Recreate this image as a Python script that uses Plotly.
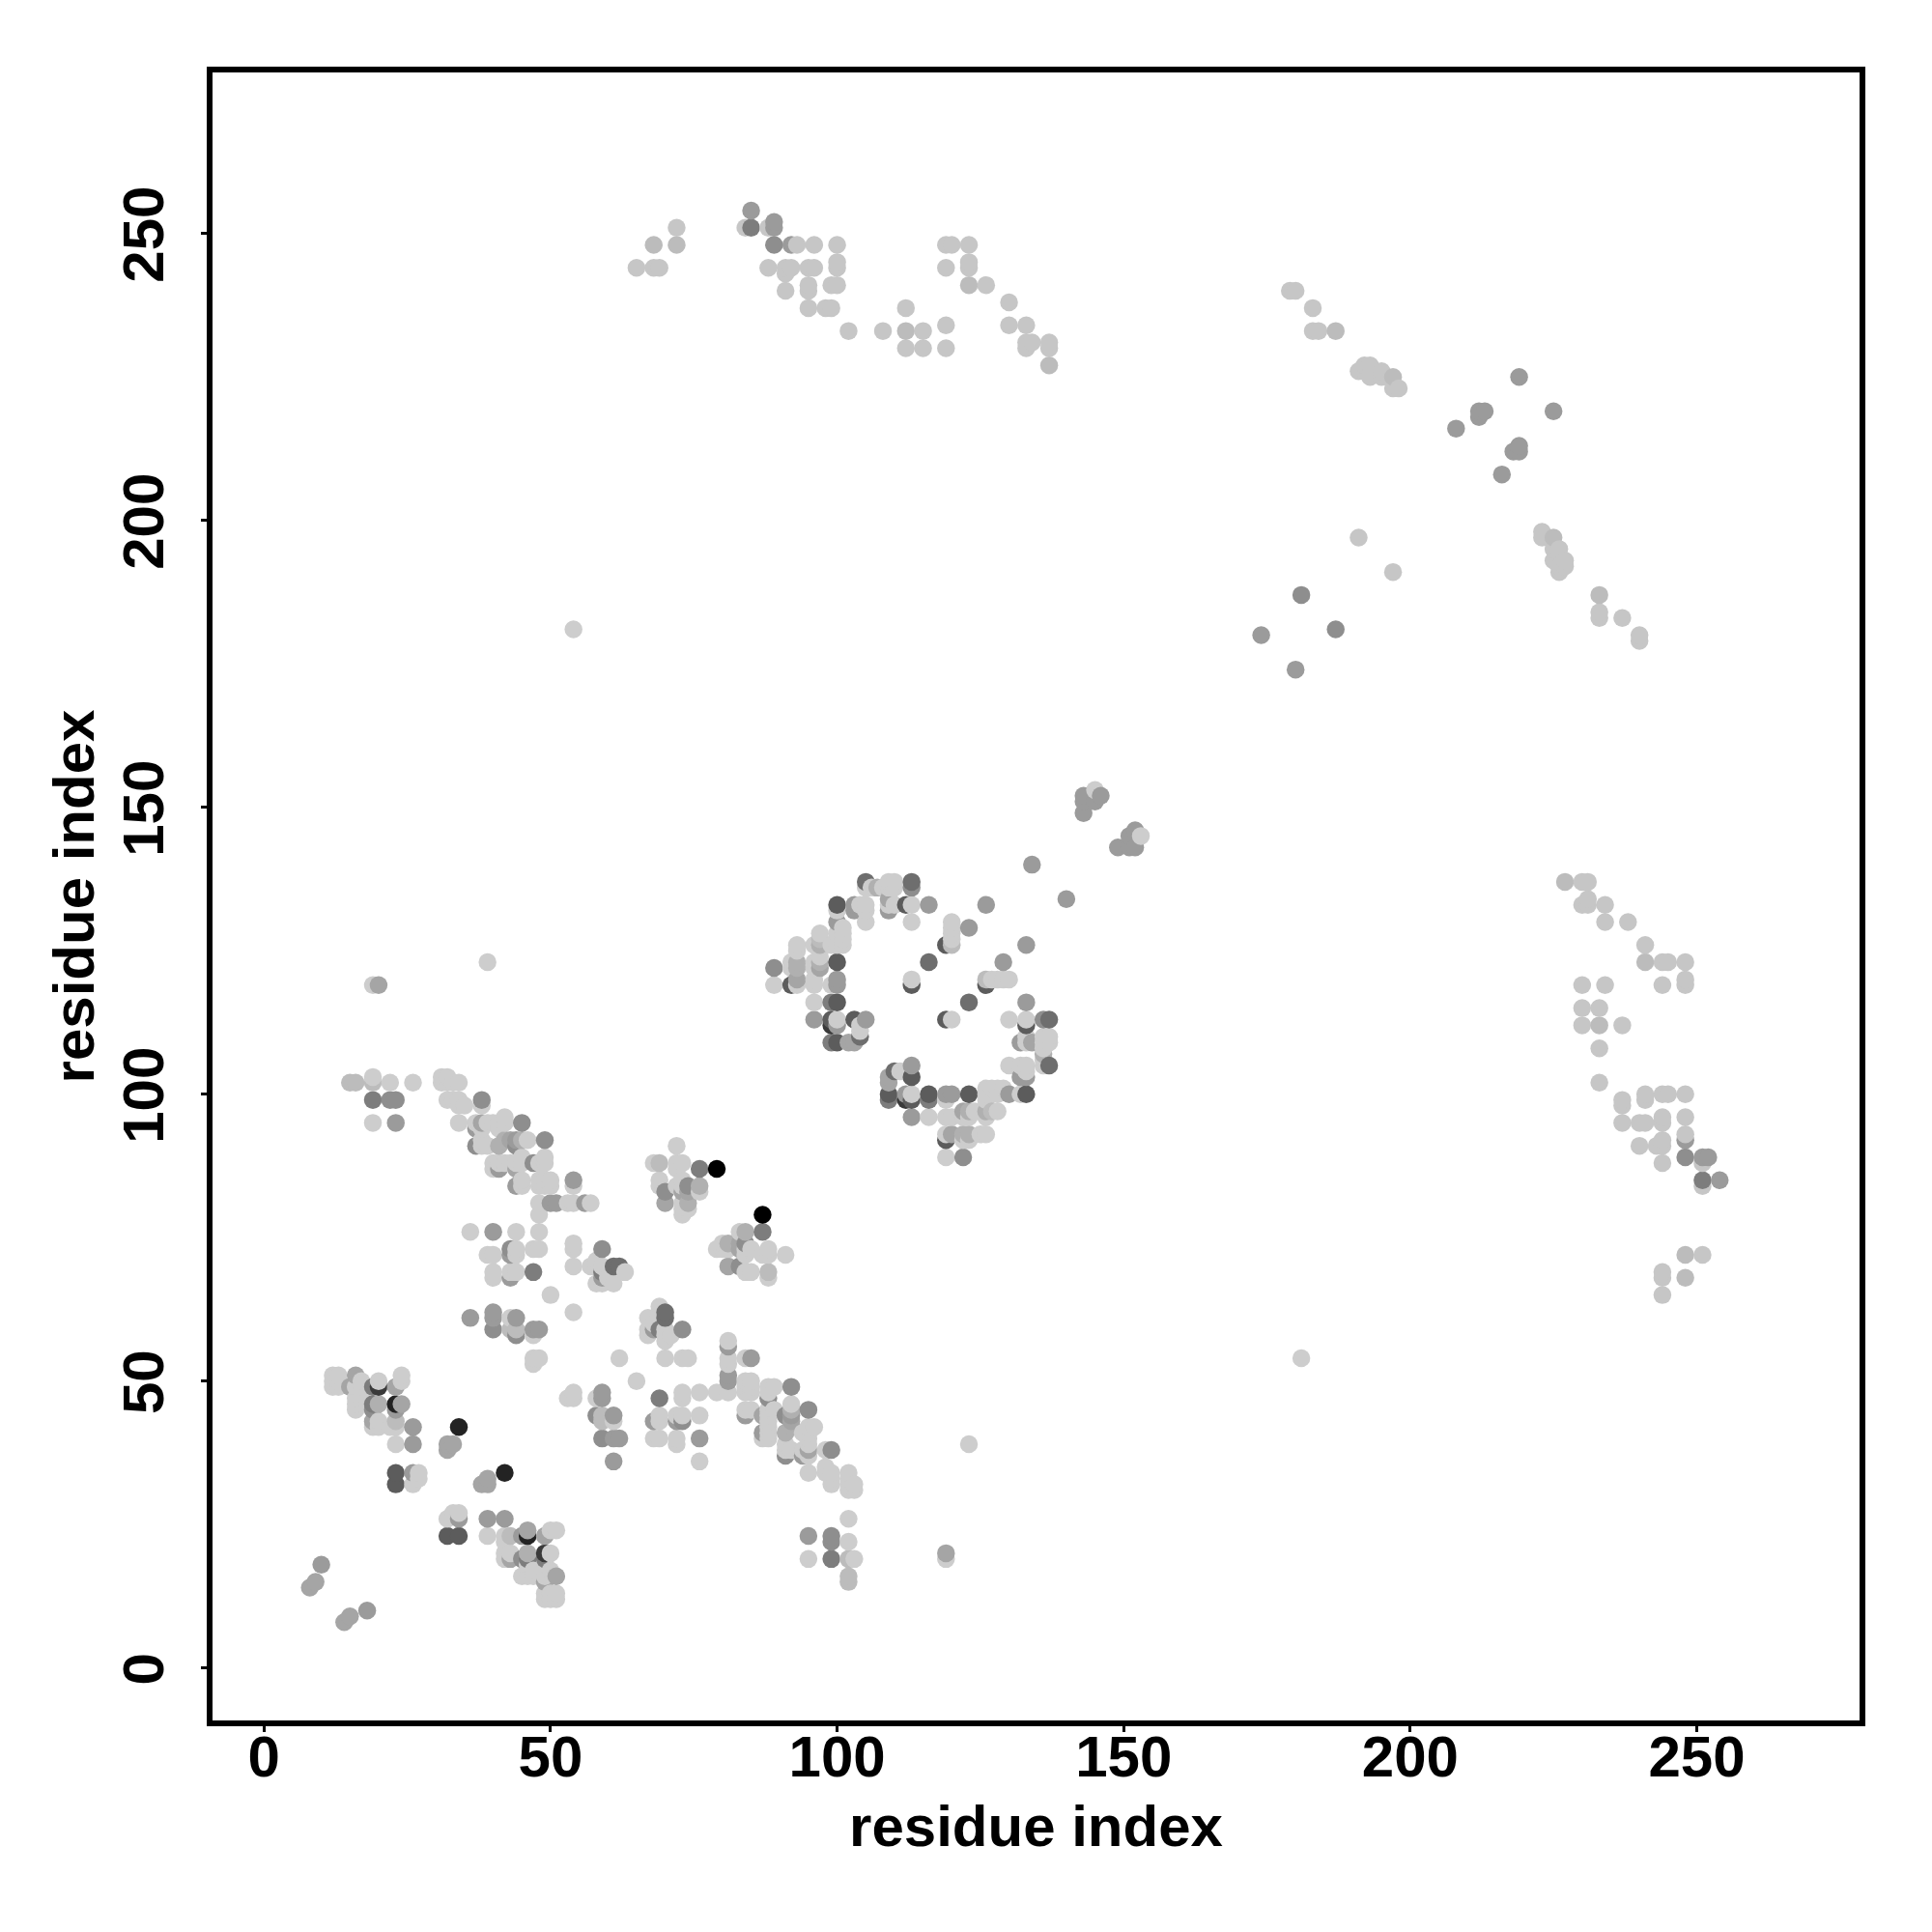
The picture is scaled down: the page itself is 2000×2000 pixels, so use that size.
import plotly.graph_objects as go

ticks = [0, 50, 100, 150, 200, 250]
tick_labels = ["0", "50", "100", "150", "200", "250"]
axis_title = "residue index"

pairs_205 = [(12,49),(12,50),(12,51),(13,49),(13,50),(13,51),(16,45),(16,46),(16,47),(16,49),(17,47),(17,50),(18,46),(17,49),(19,42),(20,42),(20,43),(20,50),(22,42),(23,39),(23,42),(24,50),(24,51),(26,32),(27,33),(27,34),
(15,102),(16,102),(19,103),(22,102),(26,102),(19,95),(31,103),(32,103),(31,102),(32,102),(33,102),(34,102),(32,99),(33,99),(34,99),(35,98),(34,98),(38,98),(34,95),(37,95),(38,95),(39,95),(38,91),(39,91),(40,95),(41,95),(42,96),(42,95),(45,92),(46,92),(41,91),(40,88),(40,87),(41,88),(43,88),(44,88),(45,88),(48,88),(49,89),(49,88),(45,84),(45,85),(48,85),(49,85),(50,85),(48,84),(49,84),(54,84),(48,81),(53,81),(54,81),(57,81),(48,79),(48,76),(36,76),(44,76),(47,73),(48,73),(39,72),(40,72),(44,73),(44,72),(40,69),(40,68),(43,69),(44,69),(50,65),(54,62),(54,74),(54,73),(54,70),(57,70),(58,71),(59,70),(63,69),(58,67),(59,67),(61,67),(60,68),(43,61),(47,58),(48,54),(47,53),(47,54),
(72,91),(68,88),(72,88),(73,88),(69,85),(69,84),(72,84),(73,84),(73,80),(73,79),(73,81),(76,83),(74,80),(73,85),(72,87),
(69,63),(67,61),(67,58),(70,58),(70,54),(73,54),(74,54),(81,57),(81,54),(81,53),(79,48),(81,48),(76,48),(73,48),(73,47),(65,50),(84,54),(85,50),(84,50),(84,49),(85,49),(88,49),(89,49),(85,45),(89,45),(92,46),(96,42),(95,42),(88,42),(88,41),(88,40),(91,38),(95,39),(94,41),(92,38),(94,38),(98,38),(95,34),(98,35),(98,34),(99,34),(99,32),(102,34),(102,33),(102,31),(103,32),(103,31),(102,26),(102,22),(95,19),(102,19),(103,19),(119,19),(123,39),(69,44),(69,43),(72,44),(73,44),(76,44),(68,40),(69,40),(72,40),(72,39),(76,36),(54,181),
(105,136),(107,136),(108,136),(109,136),(110,136),(109,137),(110,137),(100,132),(104,133),(105,133),(105,132),(105,130),(109,133),(110,133),(113,133),(113,130),(101,129),(100,128),(101,128),(100,126),(101,126),(97,128),(96,126),(93,126),(93,125),(92,123),(92,122),(96,123),(96,122),(89,119),(93,119),(96,120),(96,119),(99,119),(96,116),(100,113),(104,112),
(120,130),(120,129),(120,128),(113,120),(127,120),(128,120),(129,120),(130,120),(120,113),(130,113),(133,113),(133,110),(133,109),(136,110),(137,110),(136,109),(137,109),(136,108),(136,106),(130,105),(132,105),(133,105),(133,104),(132,100),(129,101),(128,101),(127,101),(126,101),(128,100),(126,100),(126,99),(113,100),(119,99),(111,104),(116,96),(119,96),(120,96),(123,97),(123,96),(124,97),(126,97),(127,97),(128,97),(119,93),(122,92),(123,92),(125,93),(126,93),(119,89),(145,153)]

pairs_198 = [(65,244),(68,244),(69,244),(72,251),(84,251),(88,251),(93,248),(96,248),(100,248),(100,245),(100,244),(88,244),(91,244),(92,244),(91,243),(91,240),(95,244),(96,244),(95,241),(95,240),(99,241),(100,241),(95,237),(98,237),(99,237),(102,233),(108,233),(112,237),(115,233),(112,230),(115,230),(119,234),(119,230),(119,248),(120,248),(123,248),(119,244),(123,245),(123,244),(126,241),(130,238),(130,234),(133,234),(133,231),(133,230),(134,231),(137,231),(137,230),
(179,240),(180,240),(183,237),(183,233),(184,233),(191,226),(192,227),(193,227),(192,226),(193,225),(195,226),(195,225),(197,225),(197,223),(198,223),(191,197),(223,198),(223,197),(226,195),(225,195),(227,193),(225,193),(227,192),(226,191),(233,187),(233,184),(233,183),(237,183),(240,180),(240,179),
(230,137),(231,137),(230,133),(231,134),(231,133),(234,133),(234,130),(238,130),(241,126),(244,123),(245,123),(248,123),(248,120),(248,119),(244,119),(230,119),(234,119),(230,115),(233,115),(230,112),(237,112),(233,108),(233,102),(237,99),(237,98),(241,100),(241,99),(244,100),(245,100),(248,100),(237,95),(240,95),(241,95),(244,96),(244,95),(248,96),(248,93),(240,91),(243,91),(244,92),(244,91),(244,88),(251,88),(251,84),(248,72),(251,72),(244,69),(244,68),(248,68),(244,65)]

pairs_188 = [(19,102),(23,43),(44,92),(43,72),(43,59),(44,59),(68,248),(72,248),(187,233),(225,197),(123,241),(112,233),(102,16),(102,15),(120,126),(126,120),(69,88),(227,137),(241,123),(233,112),(137,227),(122,93),(97,127)]

pairs_176 = [(20,46),(42,92),(76,84),(74,81),(87,44),(87,41),(91,41),(92,45),(92,42),(97,126),(97,123),(93,123),(93,122),(136,107)]

pairs_165 = [(8,14),(9,15),(15,49),(16,51),(23,49),(24,46),(19,43),(32,38),(32,39),(33,39),(37,94),(43,92),(44,87),(43,68),(70,81),(74,83),(83,73),(95,38),(102,109),(103,109),(93,120),(97,122),(100,130),(122,97),(120,93),(109,103),(109,102),(132,103),(134,109),(119,20)]

pairs_155 = [(10,18),(26,42),(26,39),(26,34),(23,45),(22,99),(23,99),(23,95),(41,87),(44,84),(54,85),(50,81),(51,81),(56,81),(40,76),(43,73),(36,61),(40,62),(40,61),(44,61),(47,59),(48,59),(68,43),(68,59),(72,43),(76,40),(81,51),(81,50),(85,54),(92,49),(84,44),(88,47),(92,44),(91,37),(94,37),(95,23),(103,133),(103,132),(109,132),(116,133),(126,133),(123,129),(129,123),(133,126),(100,120),(100,119),(96,113),(105,113),(133,116),(136,113),(132,109),(130,100),(120,100),(119,100),(112,100),(113,105),(113,96),(134,140),(208,216),(212,218),(212,219),(213,219),(219,225),(174,180),(143,152),(143,149),(145,151),(146,152),(143,151),(85,254),(89,252),(89,251),(92,248)]

pairs_142 = [(19,45),(38,99),(45,95),(37,91),(49,92),(47,88),(59,73),(40,59),(44,58),(73,59),(74,84),(70,83),(73,43),(95,45),(91,44),(99,38),(99,23),(99,22),(122,89),(89,122),(89,248),(113,136),(181,187)]

pairs_125 = [(19,49),(19,46),(76,87),(85,251),(59,69),(69,47),(99,116),(99,109),(109,99),(116,99),(110,104),(99,19)]

pairs_110 = [(61,70),(62,70),(70,62),(70,61),(105,137),(113,137),(104,110),(116,123),(123,116),(137,113),(137,105)]

pairs_92 = [(23,32),(23,34),(100,133),(112,133),(92,119),(100,116),(99,113),(103,113),(100,109),(100,123),(109,100),(113,99),(113,103),(116,100),(123,100),(119,92),(119,113),(119,126),(113,119),(126,119),(133,100),(133,112)]

pairs_58 = [(20,49),(99,112),(112,99)]

pairs_35 = [(34,42),(23,46)]

pairs_0 = [(79,87)]

groups = [(pairs_205, 205), (pairs_198, 198), (pairs_188, 188), (pairs_176, 176), (pairs_165, 165),
          (pairs_155, 155), (pairs_142, 142), (pairs_125, 125), (pairs_110, 110), (pairs_92, 92),
          (pairs_58, 58), (pairs_35, 35), (pairs_0, 0)]

cells = {}
for pairs, grey in groups:
    for a, b in pairs:
        cells[(a, b)] = grey
        cells[(b, a)] = grey

# The map draws in order of x then y, so later points overlap earlier ones
ordered = sorted(cells)
xs = [p[0] for p in ordered]
ys = [p[1] for p in ordered]
colors = [f"rgb({cells[p]},{cells[p]},{cells[p]})" for p in ordered]

fig = go.Figure(go.Scatter(
    x=xs, y=ys, mode="markers",
    marker=dict(size=18.5, color=colors, line=dict(width=0)),
    hoverinfo="skip", showlegend=False, cliponaxis=True,
))

font = dict(family="Liberation Sans", size=60, color="black", weight="bold")
axis = dict(
    tickmode="array", tickvals=ticks, ticktext=tick_labels, tickfont=font,
    ticks="outside", ticklen=6, tickwidth=3, tickcolor="black",
    showgrid=False, zeroline=False, showline=True, linecolor="black", linewidth=6, mirror=True,
)
fig.update_xaxes(range=[-8.98, 278.4], ticklabelstandoff=-26,
                 title=dict(text=axis_title, font=font, standoff=20), **axis)
fig.update_yaxes(range=[-9.14, 278.06], tickangle=-90, ticklabelstandoff=15, ticklabelshift=10,
                 title=dict(text=axis_title, font=font, standoff=0), **axis)
PAGE = 8
fig.update_layout(
    width=1984, height=1984, autosize=False,
    margin=dict(l=219.7 - PAGE, r=1984 + PAGE - 1924.7, t=75 - PAGE, b=1984 + PAGE - 1781, autoexpand=False),
    paper_bgcolor="white", plot_bgcolor="white",
)
fig.write_html("out.html")
